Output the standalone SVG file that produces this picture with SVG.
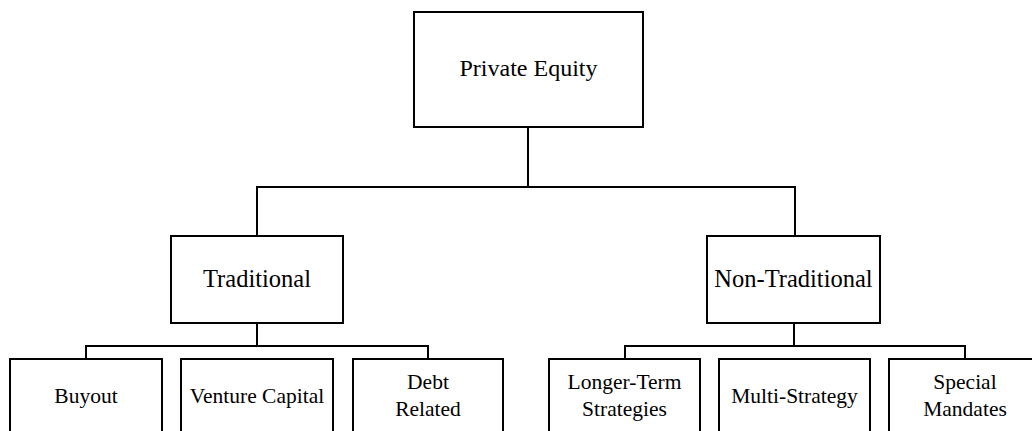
<svg xmlns="http://www.w3.org/2000/svg" width="1032" height="431" viewBox="0 0 1032 431">
<style>
.box{fill:#fff;stroke:#000;stroke-width:2}
.con{fill:none;stroke:#000;stroke-width:2}
text{font-family:"Liberation Serif","Times New Roman",serif;fill:#000;text-anchor:middle}
.l1{font-size:24px}
.l2{font-size:24.5px}
.l3{font-size:21.5px}
</style>
<rect width="1032" height="431" fill="#fff"/>
<g id="connectors">
<path class="con" d="M528,127 V187 M257,187 H795 M257,186 V236 M795,186 V236"/>
<path class="con" d="M257,323 V346 M86,346 H428 M86,345 V359 M428,345 V359"/>
<path class="con" d="M794,323 V346 M625,346 H965 M625,345 V359 M965,345 V359"/>
</g>
<g id="private-equity">
<rect class="box" x="414" y="12" width="229" height="115"/>
<text class="l1" x="528.5" y="76">Private Equity</text>
</g>
<g id="traditional">
<rect class="box" x="171" y="236" width="172" height="87"/>
<text class="l2" x="257" y="287">Traditional</text>
</g>
<g id="non-traditional">
<rect class="box" x="707" y="236" width="173" height="87"/>
<text class="l2" x="793.5" y="287">Non-Traditional</text>
</g>
<g id="buyout">
<rect class="box" x="10" y="359" width="152" height="90"/>
<text class="l3" x="86" y="403">Buyout</text>
</g>
<g id="venture-capital">
<rect class="box" x="181" y="359" width="152" height="90"/>
<text class="l3" x="257" y="403">Venture Capital</text>
</g>
<g id="debt-related">
<rect class="box" x="353" y="359" width="150" height="90"/>
<text class="l3" x="428" y="389">Debt</text>
<text class="l3" x="428" y="416">Related</text>
</g>
<g id="longer-term">
<rect class="box" x="549" y="359" width="151" height="90"/>
<text class="l3" x="624.5" y="389">Longer-Term</text>
<text class="l3" x="624.5" y="416">Strategies</text>
</g>
<g id="multi-strategy">
<rect class="box" x="719" y="359" width="151" height="90"/>
<text class="l3" x="794.5" y="403">Multi-Strategy</text>
</g>
<g id="special-mandates">
<rect class="box" x="889" y="359" width="152" height="90"/>
<text class="l3" x="965" y="389">Special</text>
<text class="l3" x="965" y="416">Mandates</text>
</g>
</svg>
